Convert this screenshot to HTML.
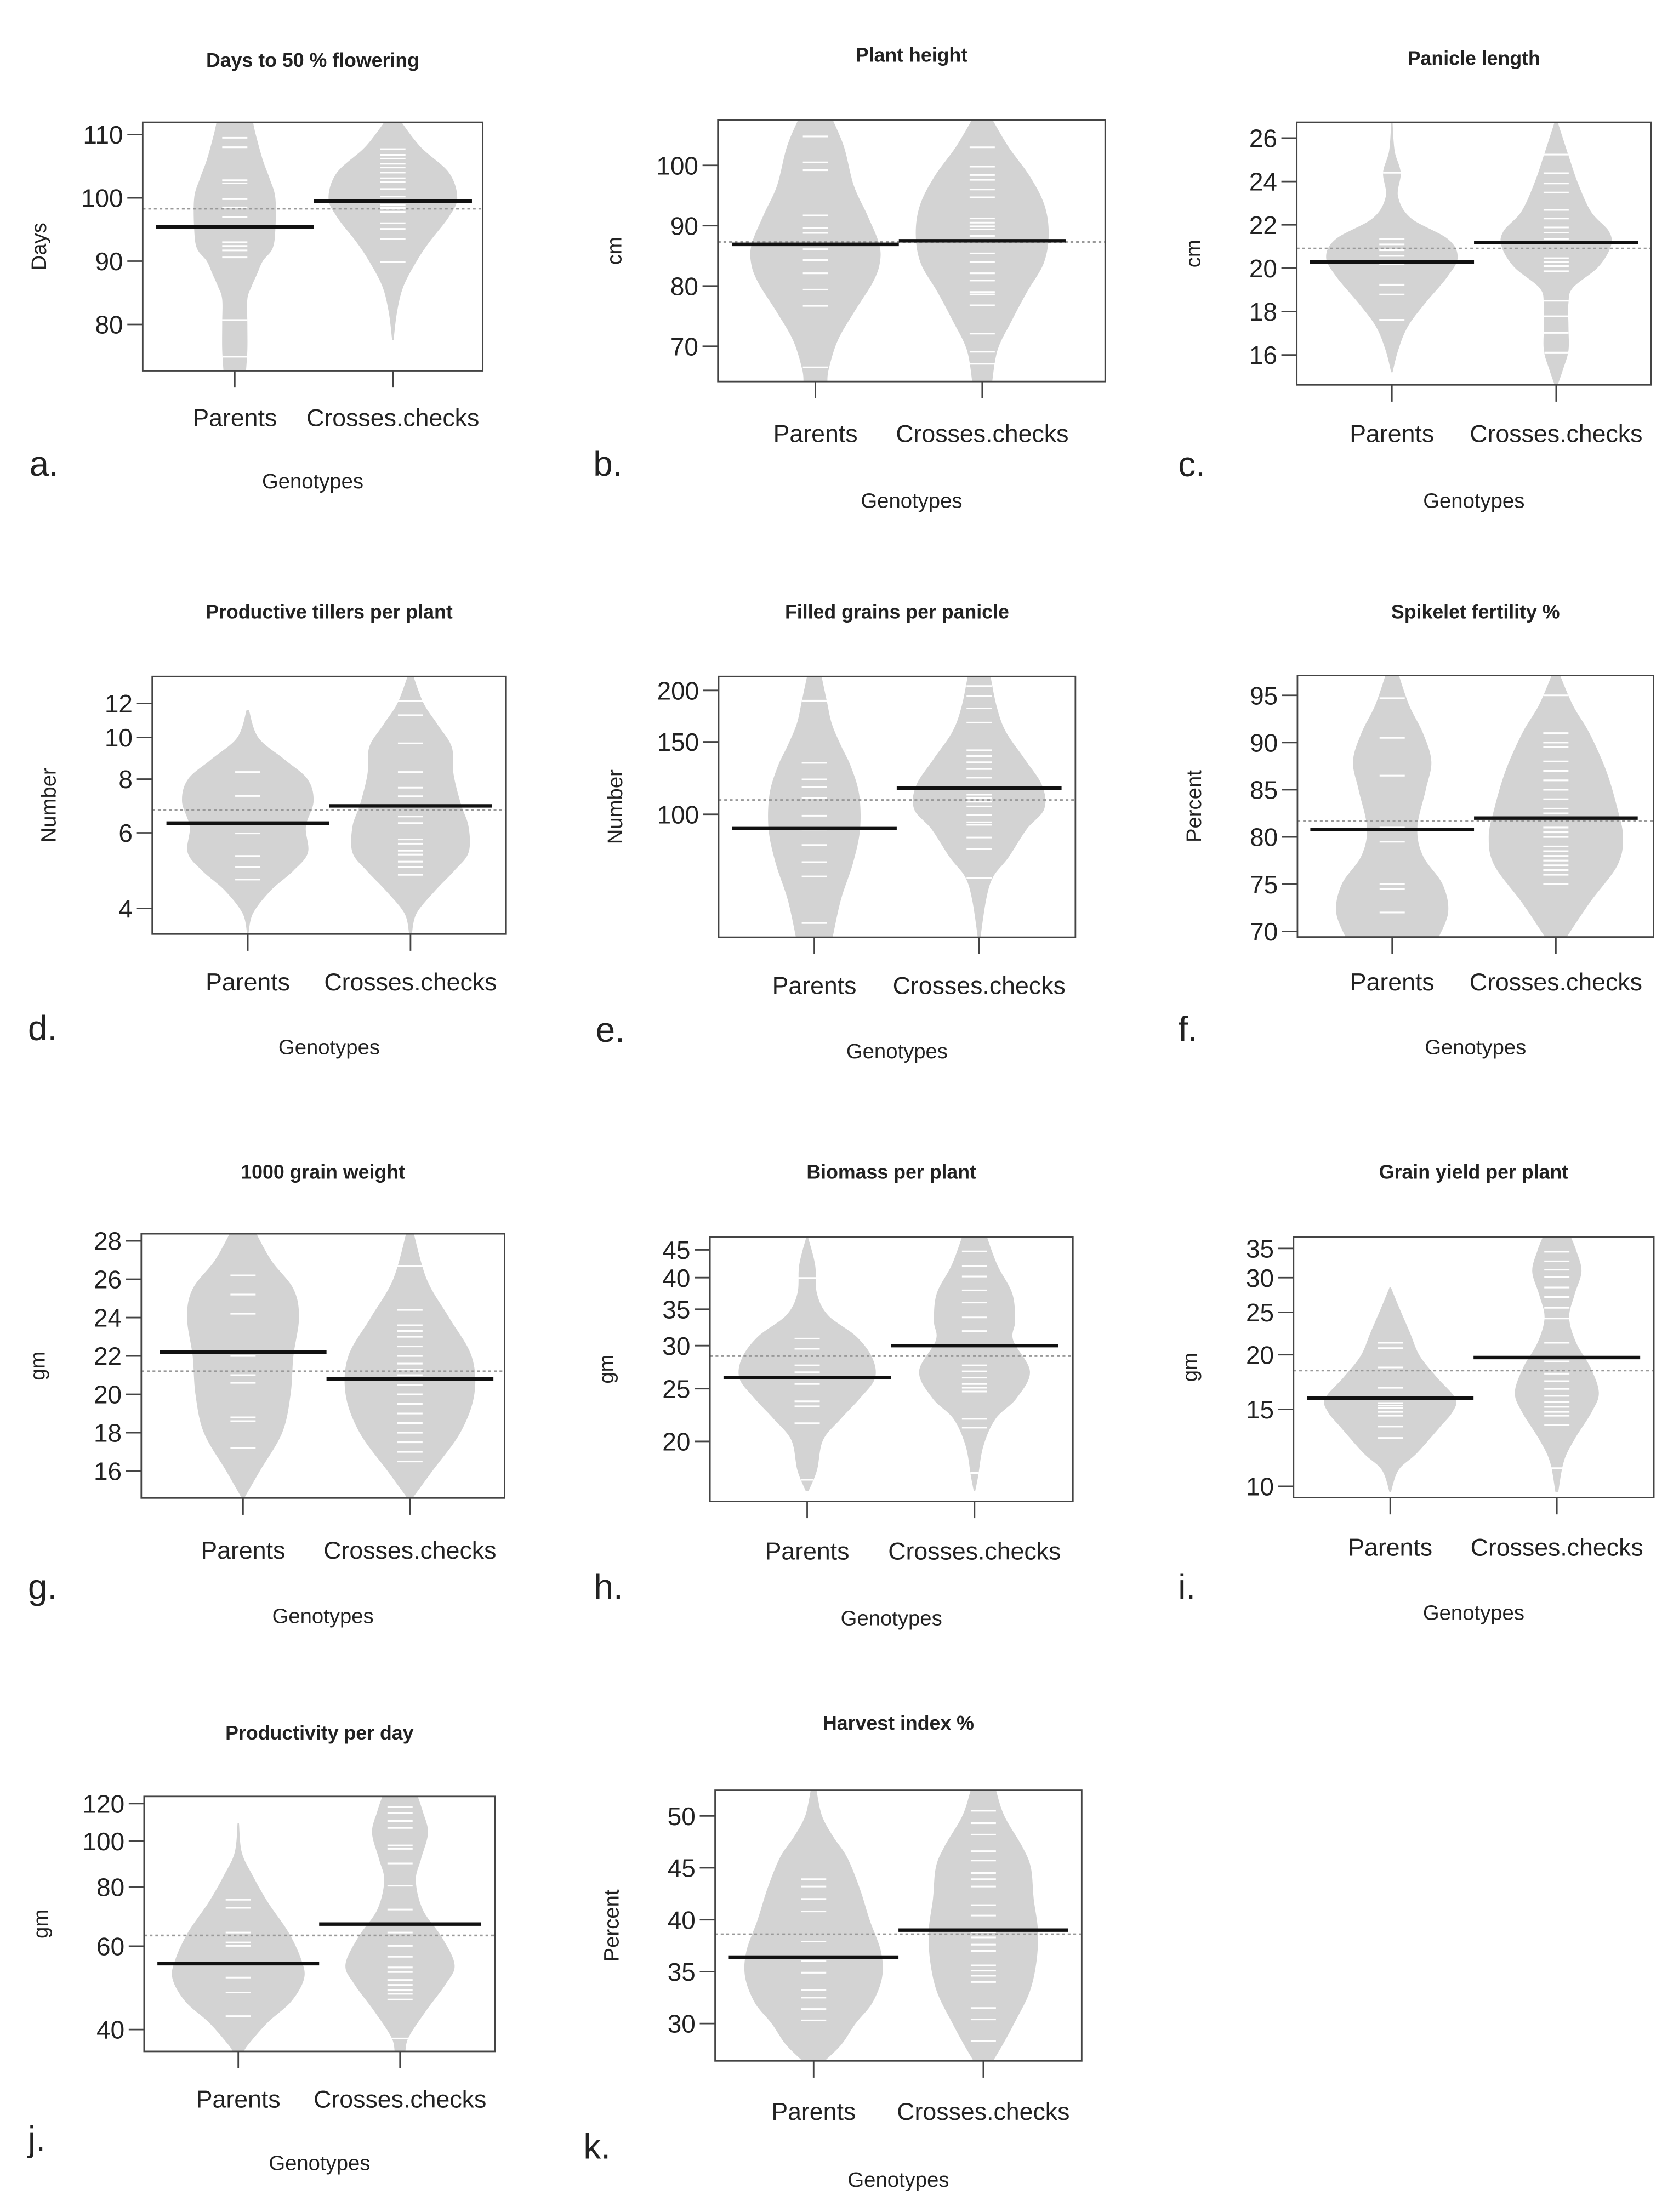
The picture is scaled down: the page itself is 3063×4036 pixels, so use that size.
<!DOCTYPE html>
<html><head><meta charset="utf-8">
<style>
html,body{margin:0;padding:0;background:#fff;}
svg{display:block;}
text{font-family:"Liberation Sans",sans-serif;fill:#222;}
</style></head>
<body>
<svg id="fig" xmlns="http://www.w3.org/2000/svg" width="3063" height="4036" viewBox="0 0 1200 1581" preserveAspectRatio="none"></svg>
<script>
// ---- data: bean shapes [value, halfwidth], observations, means ----
const groups = ["Parents", "Crosses.checks"];
const aParShape=[[72.5,8],[76,9],[80,9],[84,9],[86,12],[88,16],[90,20],[92,27],[95,29],[100,29],[103,25],[106,20],[110,15],[112,13]];
const aCroShape=[[77.5,0.5],[82,3],[86,7.5],[90,17],[93,26],[97,40],[100,46],[104,40],[108,20],[112,6]];
const aParPts=[74.9,80.7,90.6,91.7,92.4,93,97,98.5,99.8,102.3,102.8,108,109.5];
const aCroPts=[89.9,93.5,95.1,96,97.8,98.4,98.9,99.6,100.2,101.4,102.5,103.1,104,104.8,105.4,106.2,106.8,107.7];
const aMeans=[95.4,99.5]; const aOverall=98.3;

const bParShape=[[63.9,8.5],[66.2,9.5],[71,16],[75.8,28],[80.6,41],[83.8,46],[87,45.5],[91.8,37],[96.6,27.5],[103,20.5],[107.5,12.5]];
const bCroShape=[[63.9,7],[69.4,11],[74.2,21],[79,32],[83.8,44],[88.6,47.5],[93.4,44.5],[98.2,34],[103,19],[107.5,7.5]];
const bParPts=[66.5,76.7,79.4,82.1,84.3,86.1,88.8,89.6,91.7,99.2,100.5,104.8];
const bCroPts=[67.1,69.1,72.1,76.8,78.6,79,80.9,82.1,84,85.4,88.3,89.4,89.9,90.5,91.2,94.7,96,97.6,98.4,99.8,103];
const bMeans=[86.9,87.5]; const bOverall=87.3;

const cParShape=[[15.2,0.5],[16.2,4.4],[17.3,11.3],[18.4,24],[19.6,39.6],[20.5,47],[21.35,40],[22.3,13.8],[23.3,4.4],[24.4,6.3],[25.4,2],[26.7,0.5]];
const cCroShape=[[14.6,1],[15.35,5],[16.2,8.8],[17.3,8.8],[18.4,8.8],[19.1,12],[20.05,30],[21,39],[21.7,37.7],[22.6,25],[23.9,15.7],[25.2,8.8],[26.7,1.3]];
const cParPts=[17.62,18.79,19.24,20.2,20.57,20.83,21.1,21.35,24.4];
const cCroPts=[16.11,17.02,17.78,18.5,19.86,20.1,20.3,20.46,21.35,21.64,21.88,22.29,22.69,23.49,23.91,24.38,25.24];
const cMeans=[20.29,21.19]; const cOverall=20.91;

const dParShape=[[3.5,0.5],[3.9,3.8],[4.4,16.3],[4.9,32.7],[5.4,43],[6.2,41.5],[7.1,47],[8.0,42.7],[8.9,26],[10.0,7.5],[11.6,0.8]];
const dCroShape=[[3.5,1],[3.9,4.4],[4.4,17.6],[4.9,31.4],[5.4,41.5],[6.2,41.5],[7.0,36],[8.2,30.8],[9.5,29.5],[10.7,19.5],[12.0,9.4],[13.9,2]];
const dParPts=[4.67,4.99,5.3,5.98,7.31,8.31];
const dCroPts=[4.79,4.99,5.14,5.34,5.45,5.66,5.79,6.32,6.55,7.3,7.64,8.31,9.69,11.27,12.16];
const dMeans=[6.32,6.93]; const dOverall=6.78;

const eParShape=[[50,13],[62,19],[76,27.6],[92,32.7],[112,32],[131,26],[147,19],[166,12.5],[188,9],[218,5]];
const eCroShape=[[50.3,1],[62,5],[70.4,10],[78.6,21],[92,34],[103,46.5],[117.5,45],[136,32.7],[159,19],[183,12.5],[218,8]];
const eParPts=[54.4,70.6,76.5,84.2,91.8,99.2,109.4,116.4,121.6,133.4,188.9];
const eCroPts=[69.9,82.4,87.8,94.3,95.6,99.5,104.5,107.3,109.5,111.6,114.9,122.8,128.8,133.8,138.5,143.1,167.1,180.9,194,205];
const eMeans=[92.3,115.8]; const eOverall=108.3;

const fParShape=[[69,32],[72,40],[75,36],[78,22],[81,18],[85,24],[88,28],[91,22],[94,12],[97.5,4]];
const fCroShape=[[69,6],[73,24],[77,44],[80,48],[83,44],[87,36],[91,24],[94,12],[97.5,2]];
const fParPts=[72,74.5,75,79.5,81,86.5,90.5,94.7];
const fCroPts=[75,76,76.5,77,77.5,78,78.5,79,80,80.5,81,82,82.5,83,84,85,86,87,88,89.5,90,91,95];
const fMeans=[80.8,82]; const fOverall=81.7;

const gParShape=[[14.6,1],[16,12],[18,28],[20,34],[22,36],[24,40],[25.5,36],[27,20],[28.6,8]];
const gCroShape=[[14.6,2],[16,16],[18,36],[20,46],[22,44],[24,28],[26,12],[28.6,2]];
const gParPts=[17.2,18.6,18.8,20.6,21,22,24.2,25.2,26.2];
const gCroPts=[16.5,17,17.5,18,18.5,19,19.5,20,20.5,21,21.3,21.6,22,22.5,23,23.3,23.6,24.4,26.7];
const gMeans=[22.2,20.8]; const gOverall=21.2;

const hParShape=[[16.2,1],[17.7,7],[20.1,11.3],[22,24],[24,37.7],[26.1,48.4],[28.5,46.5],[31.2,35],[34.1,15],[37.4,7],[42.2,5.7],[47.6,0.5]];
const hCroShape=[[16.2,0.5],[17.2,2.5],[19.6,6.3],[22,15],[24,30],[26.9,39.6],[30.7,27.6],[33.3,29],[37.4,27],[42.2,16.3],[47.6,8.8]];
const hParPts=[17.0,21.6,23.2,23.7,25.5,26.8,27.6,29.6,30.9,39.95];
const hCroPts=[17.5,21.2,22.0,24.7,25.1,25.5,26.2,26.9,27.6,31.9,33.8,36.0,37.9,40.2,42.0,44.7];
const hMeans=[26.2,30.0]; const hOverall=28.7;

const iParShape=[[9.7,0.5],[10.9,6],[11.9,19],[13.6,35],[14.8,44.6],[15.9,46.5],[17.8,33],[19.9,21],[22.5,14],[25.8,6],[28.5,0.5]];
const iCroShape=[[9.7,1],[11.4,5],[12.8,12.6],[14.8,25],[16.4,30],[18.7,24],[21.3,13.8],[24.3,8.8],[27.4,12.6],[31,17.6],[34.5,14],[37.2,10]];
const iParPts=[12.9,13.7,14.5,14.8,15.1,15.3,15.5,16.8,18.7,20.7,21.3];
const iCroPts=[11.0,13.8,14.5,14.8,15.2,15.6,16.1,16.7,17.4,18.1,19.3,21.3,24.2,25.6,27.1,28.5,30.1,31.3,32.7,34.4];
const iMeans=[15.9,19.7]; const iOverall=18.4;

const jParShape=[[36,4],[37.3,7.5],[41.4,21],[45.8,37.7],[51.2,47],[56.2,45],[64.1,36],[74.4,21],[84.9,10],[94.7,2.5],[109,0.5]];
const jCroShape=[[36,3.8],[38.6,6.3],[43.9,18.8],[49.9,32.7],[54.8,39],[62.6,30],[71.6,16.3],[82.5,11.3],[91.6,15],[104.1,20],[115.4,16.3],[124.4,12.6]];
const jParPts=[42.7,47.9,51.5,60.1,61.1,64.1,72.3,75.2];
const jCroPts=[38.3,46.3,47.6,48.4,49.7,50.9,52.9,54.1,57,60.1,64.1,71.7,80.5,89.7,96.3,97.9,106.6,110.3,114.6,118];
const jMeans=[55.1,66.8]; const jOverall=63.2;

const kParShape=[[26.4,8],[28,20],[30,30],[32,42],[34.5,49],[37,48],[40,40],[43,33],[46,24],[48,14],[50,6],[52.5,2]];
const kCroShape=[[26.4,7],[28,14],[30,22],[33,33],[36,38],[39,39],[42,36],[45,34],[47,28],[50,15],[52.5,9]];
const kParPts=[30.3,31.4,32.5,33.2,34.9,36.0,37.9,40.8,42.0,43.2,43.9];
const kCroPts=[28.3,30.4,31.5,34.0,34.6,35.1,35.6,37.0,37.6,38.3,38.8,40.4,41.4,43.2,43.9,44.5,45.7,46.6,48.2,49.3,50.5];
const kMeans=[36.4,39.0]; const kOverall=38.6;

const aTicks=[80,90,100,110], bTicks=[70,80,90,100], cTicks=[16,18,20,22,24,26], dTicks=[4,6,8,10,12],
      eTicks=[100,150,200], fTicks=[70,75,80,85,90,95], gTicks=[16,18,20,22,24,26,28], hTicks=[20,25,30,35,40,45],
      iTicks=[10,15,20,25,30,35], jTicks=[40,60,80,100,120], kTicks=[30,35,40,45,50];

// ---- layout (cal: two reference values -> pixel y) ----
const panels=[
 {id:"a",title:"Days to 50 % flowering",ylab:"Days",box:[102,87.4,345,265],cx:[167.8,280.8],cal:[110,96.2,80,231.9],log:false,ticks:aTicks,shapes:[aParShape,aCroShape],pts:[aParPts,aCroPts],means:aMeans,overall:aOverall,ty:47.7,xly:304.5,gy:349,lx:21,ly:340},
 {id:"b",title:"Plant height",ylab:"cm",box:[513.1,85.9,789.9,272.7],cx:[582.8,702],cal:[100,118.2,70,247.5],log:false,ticks:bTicks,shapes:[bParShape,bCroShape],pts:[bParPts,bCroPts],means:bMeans,overall:bOverall,ty:44,xly:316,gy:363,lx:424,ly:340},
 {id:"c",title:"Panicle length",ylab:"cm",box:[926.8,87.4,1180,275.1],cx:[994.8,1112.2],cal:[26,98.7,16,253.7],log:false,ticks:cTicks,shapes:[cParShape,cCroShape],pts:[cParPts,cCroPts],means:cMeans,overall:cOverall,ty:46.5,xly:316,gy:363,lx:842,ly:340.4},
 {id:"d",title:"Productive tillers per plant",ylab:"Number",box:[108.8,483.5,361.7,667.6],cx:[177.1,293.4],cal:[12,502.8,4,649.3],log:true,ticks:dTicks,shapes:[dParShape,dCroShape],pts:[dParPts,dCroPts],means:dMeans,overall:dOverall,ty:442,xly:707.8,gy:753.5,lx:20,ly:743.5},
 {id:"e",title:"Filled grains per panicle",ylab:"Number",box:[513.6,483.5,768.6,669.9],cx:[582,699.8],cal:[200,493.5,100,582],log:true,ticks:eTicks,shapes:[eParShape,eCroShape],pts:[eParPts,eCroPts],means:eMeans,overall:eOverall,ty:442,xly:710.3,gy:756.5,lx:425.7,ly:744.7},
 {id:"f",title:"Spikelet fertility %",ylab:"Percent",box:[927.3,482.8,1181.8,669.7],cx:[995,1112],cal:[95,497,70,665.7],log:false,ticks:fTicks,shapes:[fParShape,fCroShape],pts:[fParPts,fCroPts],means:fMeans,overall:fOverall,ty:442,xly:707.8,gy:753.5,lx:842,ly:744},
 {id:"g",title:"1000 grain weight",ylab:"gm",box:[101,881.8,360.6,1070.7],cx:[173.7,293],cal:[28,886.9,16,1051.4],log:false,ticks:gTicks,shapes:[gParShape,gCroShape],pts:[gParPts,gCroPts],means:gMeans,overall:gOverall,ty:842.5,xly:1114,gy:1160,lx:20,ly:1142.7},
 {id:"h",title:"Biomass per plant",ylab:"gm",box:[507.4,884,766.8,1073.1],cx:[576.9,696.5],cal:[45,893.3,20,1030.2],log:true,ticks:hTicks,shapes:[hParShape,hCroShape],pts:[hParPts,hCroPts],means:hMeans,overall:hOverall,ty:842.5,xly:1114.6,gy:1161.6,lx:424.5,ly:1142.7},
 {id:"i",title:"Grain yield per plant",ylab:"gm",box:[924.5,884,1182,1070.4],cx:[993.6,1112.7],cal:[35,892.3,10,1062.3],log:true,ticks:iTicks,shapes:[iParShape,iCroShape],pts:[iParPts,iCroPts],means:iMeans,overall:iOverall,ty:842.5,xly:1112,gy:1157.8,lx:842,ly:1142.7},
 {id:"j",title:"Productivity per day",ylab:"gm",box:[103,1284,353.7,1466.2],cx:[170.3,285.9],cal:[120,1289.1,40,1450.6],log:true,ticks:jTicks,shapes:[jParShape,jCroShape],pts:[jParPts,jCroPts],means:jMeans,overall:jOverall,ty:1243.4,xly:1506.4,gy:1551.1,lx:20,ly:1537.3},
 {id:"k",title:"Harvest index %",ylab:"Percent",box:[511.1,1279.6,773.1,1473],cx:[581.5,702.8],cal:[50,1297.9,30,1446.3],log:false,ticks:kTicks,shapes:[kParShape,kCroShape],pts:[kParPts,kCroPts],means:kMeans,overall:kOverall,ty:1236.3,xly:1515.2,gy:1562.9,lx:417,ly:1542.8}
];

const NS="http://www.w3.org/2000/svg";
const svg=document.getElementById("fig");
function mk(tag,attrs,parent){const e=document.createElementNS(NS,tag);for(const k in attrs)e.setAttribute(k,attrs[k]);(parent||svg).appendChild(e);return e;}
function yScale(p){
  const [v1,y1,v2,y2]=p.cal;
  const f=p.log?Math.log:(x=>x);
  return v=>y1+(f(v)-f(v1))*(y2-y1)/(f(v2)-f(v1));
}
function beanPath(shape,cx,y){
  const s=shape.slice().sort((a,b)=>a[0]-b[0]);
  const L=s.map(d=>[cx-d[1],y(d[0])]), R=s.map(d=>[cx+d[1],y(d[0])]).reverse();
  function smooth(pts){let d="";for(let i=0;i<pts.length-1;i++){const p0=pts[Math.max(i-1,0)],p1=pts[i],p2=pts[i+1],p3=pts[Math.min(i+2,pts.length-1)];
    const c1=[p1[0]+(p2[0]-p0[0])/6,p1[1]+(p2[1]-p0[1])/6],c2=[p2[0]-(p3[0]-p1[0])/6,p2[1]-(p3[1]-p1[1])/6];
    d+=` C${c1[0]},${c1[1]} ${c2[0]},${c2[1]} ${p2[0]},${p2[1]}`;}return d;}
  return `M${L[0][0]},${L[0][1]}`+smooth(L)+` L${R[0][0]},${R[0][1]}`+smooth(R)+"Z";
}
function widthAt(shape,v){const s=shape.slice().sort((a,b)=>a[0]-b[0]);
  if(v<=s[0][0])return s[0][1];for(let i=0;i<s.length-1;i++){if(v<=s[i+1][0]){const t=(v-s[i][0])/(s[i+1][0]-s[i][0]);return s[i][1]+t*(s[i+1][1]-s[i][1]);}}return s[s.length-1][1];}

panels.forEach(p=>{
  const g=mk("g",{});
  
  
  const y=yScale(p);
  const [x0,y0,x1,y1]=p.box;
  const clip=mk("clipPath",{id:"clip-"+p.id},g);
  mk("rect",{x:x0,y:y0,width:x1-x0,height:y1-y0},clip);
  const plot=mk("g",{"clip-path":`url(#clip-${p.id})`},g);
  p.shapes.forEach((sh,gi)=>{
    const b=mk("path",{d:beanPath(sh,p.cx[gi],y),fill:"#d3d3d3"},plot);
    
    
  });
  const ov=mk("line",{x1:x0,x2:x1,y1:y(p.overall),y2:y(p.overall),stroke:"#999",
    "stroke-width":1.3,"stroke-dasharray":"2,2"},plot);
  
  
  p.pts.forEach((arr,gi)=>{
    arr.forEach(v=>{
      const hw=Math.min(9,Math.max(2.5,widthAt(p.shapes[gi],v)));
      const o=mk("line",{x1:p.cx[gi]-hw,x2:p.cx[gi]+hw,y1:y(v),y2:y(v),stroke:"#fff","stroke-width":1.2},plot);
      
      
    });
  });
  const half=(p.cx[1]-p.cx[0])/2;
  p.means.forEach((m,gi)=>{
    const ml=mk("line",{x1:p.cx[gi]-half,x2:p.cx[gi]+half,y1:y(m),y2:y(m),stroke:"#111","stroke-width":2.5},plot);
    
    
  });
  const bx=mk("rect",{x:x0,y:y0,width:x1-x0,height:y1-y0,fill:"none",stroke:"#444","stroke-width":1.1},g);
  
  
  p.ticks.forEach(t=>{
    mk("line",{x1:x0-11,x2:x0,y1:y(t),y2:y(t),stroke:"#444","stroke-width":1.1},g);
    const tl=mk("text",{x:x0-14,y:y(t)+6.5,"text-anchor":"end","font-size":18},g);
    tl.textContent=t;
    
    
  });
  p.cx.forEach((cx,gi)=>{
    mk("line",{x1:cx,x2:cx,y1:y1,y2:y1+12,stroke:"#444","stroke-width":1.1},g);
    const xl=mk("text",{x:cx,y:p.xly,"text-anchor":"middle","font-size":17.5},g);
    xl.textContent=groups[gi];
    
    
  });
  const t=mk("text",{x:(x0+x1)/2,y:p.ty,"text-anchor":"middle","font-size":14,"font-weight":"bold"},g);
  t.textContent=p.title;
  
  
  const yl=mk("text",{x:0,y:0,"text-anchor":"middle","font-size":15,transform:`translate(${x0-69},${(y0+y1)/2}) rotate(-90)`},g);
  yl.textContent=p.ylab;
  
  
  const gl=mk("text",{x:(x0+x1)/2,y:p.gy,"text-anchor":"middle","font-size":15},g);
  gl.textContent="Genotypes";
  
  
  const pl=mk("text",{x:p.lx,y:p.ly,"font-size":25},g);
  pl.textContent=p.id+".";
  
  
});
</script>
</body></html>
